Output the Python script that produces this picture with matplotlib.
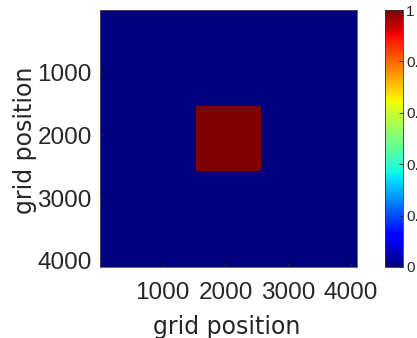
import numpy as np
import matplotlib
matplotlib.use("Agg")
import matplotlib.pyplot as plt
from matplotlib.transforms import IdentityTransform

# grid definition (8x8 blocks of 512 over 4096 points)
grid_size = 4096
block_values = [
    [0, 0, 0, 0, 0, 0, 0, 0],
    [0, 0, 0, 0, 0, 0, 0, 0],
    [0, 0, 0, 0, 0, 0, 0, 0],
    [0, 0, 0, 1, 1, 0, 0, 0],
    [0, 0, 0, 1, 1, 0, 0, 0],
    [0, 0, 0, 0, 0, 0, 0, 0],
    [0, 0, 0, 0, 0, 0, 0, 0],
    [0, 0, 0, 0, 0, 0, 0, 0],
]
axis_ticks = [1000, 2000, 3000, 4000]
cbar_ticks = [0, 0.2, 0.4, 0.6, 0.8, 1]
cbar_labels = ["0", "0.2", "0.4", "0.6", "0.8", "1"]

plt.rcParams['font.family'] = ['Liberation Sans', 'DejaVu Sans']
txt = '#262626'

W, H = 417, 338
fig = plt.figure(figsize=(W / 100, H / 100), dpi=100)
ax = fig.add_axes([100/W, 71/H, 257/W, 257/H])
cax = fig.add_axes([385/W, 71/H, 17.7/W, 257/H])

im = ax.imshow(np.array(block_values, dtype=float), cmap='jet', vmin=0, vmax=1,
               extent=[0.5, grid_size + 0.5, grid_size + 0.5, 0.5],
               interpolation='nearest', aspect='auto')
ax.set_xticks(axis_ticks)
ax.set_yticks(axis_ticks)
ax.tick_params(direction='in', length=3, labelsize=17.5, colors=txt, width=0.6)
ax.tick_params(axis='x', pad=11)
ax.tick_params(axis='y', pad=6)
ax.set_xlabel('grid position', fontsize=17, color=txt,
              family=['DejaVu Sans'])
ax.set_ylabel('grid position', fontsize=17, color=txt,
              family=['DejaVu Sans'])
ax.xaxis.set_label_coords(226.5, H - 315, transform=IdentityTransform())
ax.yaxis.set_label_coords(37, H - 140, transform=IdentityTransform())
for s in ax.spines.values():
    s.set_color('#555555')
    s.set_linewidth(0.6)

cb = fig.colorbar(im, cax=cax)
cb.set_ticks(cbar_ticks)
cb.set_ticklabels(cbar_labels)
cax.tick_params(direction='in', length=3, labelsize=11, colors=txt, width=0.6, pad=2.5)
cb.outline.set_edgecolor('#333333')
cb.outline.set_linewidth(0.6)

fig.savefig('out.png', dpi=100)
